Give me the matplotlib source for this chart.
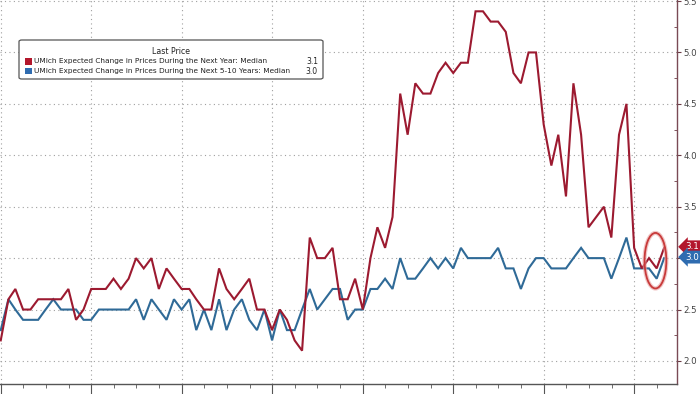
import matplotlib
matplotlib.use('Agg')
import matplotlib.pyplot as plt
import matplotlib.dates as mdates
import pandas as pd
import numpy as np
from matplotlib.patches import Ellipse, FancyBboxPatch, Rectangle
from matplotlib.transforms import blended_transform_factory

# ---------------- data ----------------
dates = pd.date_range('2016-12-01', '2024-04-01', freq='MS') + pd.offsets.MonthEnd(0)

one_year = [2.2,
            2.6, 2.7, 2.5, 2.5, 2.6, 2.6, 2.6, 2.6, 2.7, 2.4, 2.5, 2.7,
            2.7, 2.7, 2.8, 2.7, 2.8, 3.0, 2.9, 3.0, 2.7, 2.9, 2.8, 2.7,
            2.7, 2.6, 2.5, 2.5, 2.9, 2.7, 2.6, 2.7, 2.8, 2.5, 2.5, 2.3,
            2.5, 2.4, 2.2, 2.1, 3.2, 3.0, 3.0, 3.1, 2.6, 2.6, 2.8, 2.5,
            3.0, 3.3, 3.1, 3.4, 4.6, 4.2, 4.7, 4.6, 4.6, 4.8, 4.9, 4.8,
            4.9, 4.9, 5.4, 5.4, 5.3, 5.3, 5.2, 4.8, 4.7, 5.0, 5.0, 4.3,
            3.9, 4.2, 3.6, 4.7, 4.2, 3.3, 3.4, 3.5, 3.2, 4.2, 4.5, 3.1,
            2.9, 3.0, 2.9, 3.1]

five_ten_year = [2.3,
                 2.6, 2.5, 2.4, 2.4, 2.4, 2.5, 2.6, 2.5, 2.5, 2.5, 2.4, 2.4,
                 2.5, 2.5, 2.5, 2.5, 2.5, 2.6, 2.4, 2.6, 2.5, 2.4, 2.6, 2.5,
                 2.6, 2.3, 2.5, 2.3, 2.6, 2.3, 2.5, 2.6, 2.4, 2.3, 2.5, 2.2,
                 2.5, 2.3, 2.3, 2.5, 2.7, 2.5, 2.6, 2.7, 2.7, 2.4, 2.5, 2.5,
                 2.7, 2.7, 2.8, 2.7, 3.0, 2.8, 2.8, 2.9, 3.0, 2.9, 3.0, 2.9,
                 3.1, 3.0, 3.0, 3.0, 3.0, 3.1, 2.9, 2.9, 2.7, 2.9, 3.0, 3.0,
                 2.9, 2.9, 2.9, 3.0, 3.1, 3.0, 3.0, 3.0, 2.8, 3.0, 3.2, 2.9,
                 2.9, 2.9, 2.8, 3.0]

legend_title = "Last Price"
series_names = ["UMich Expected Change in Prices During the Next Year: Median",
                "UMich Expected Change in Prices During the Next 5-10 Years: Median"]
last_labels = ["3.1", "3.0"]
yticks = [2.0, 2.5, 3.0, 3.5, 4.0, 4.5, 5.0, 5.5]

RED = '#9c1a30'
BLUE = '#2f6a97'
RED_BOX = '#b3172c'
BLUE_BOX = '#2f6cb0'

# ---------------- figure ----------------
W, H = 700, 394
fig = plt.figure(figsize=(7.0, 3.94), dpi=100)
ax = fig.add_axes([0.0, 10 / H, 677 / W, 1 - 10 / H])

ax.plot(dates, five_ten_year, color=BLUE, lw=1.5, zorder=3, solid_joinstyle='miter')
ax.plot(dates, one_year, color=RED, lw=1.5, zorder=4, solid_joinstyle='miter')

ax.set_ylim(1.776, 5.51)
ax.set_xlim(pd.Timestamp('2016-12-28'), pd.Timestamp('2024-06-21'))

# axis styling
ax.yaxis.tick_right()
ax.set_yticks(yticks)
# the 3.0 tick label is hidden behind the last-value tag in the reference
ax.set_yticklabels(["" if abs(v - 3.0) < 1e-9 else f"{v:.1f}" for v in yticks])
ax.yaxis.set_minor_locator(matplotlib.ticker.MultipleLocator(0.25))
ax.tick_params(axis='y', which='major', direction='out', length=3, width=0.8,
               colors='#6b3a44', labelcolor='#444444', labelsize=6.2, pad=1.5)
ax.tick_params(axis='y', which='minor', direction='in', length=2, width=0.6, colors='#6b3a44')

ax.xaxis.set_major_locator(mdates.YearLocator())
ax.xaxis.set_minor_locator(mdates.MonthLocator(bymonth=[4, 7, 10]))
ax.tick_params(axis='x', which='major', direction='out', length=10, width=0.8,
               colors='#555555', labelbottom=False)
ax.tick_params(axis='x', which='minor', direction='out', length=3, width=0.6, colors='#555555')

ax.grid(True, which='major', axis='both', linestyle=(0, (1, 3)), color='#a0a0a0', lw=0.8)

for s in ['top', 'left']:
    ax.spines[s].set_visible(False)
ax.spines['right'].set_color('#7a4a55')
ax.spines['right'].set_linewidth(1.0)
ax.spines['bottom'].set_color('#555555')
ax.spines['bottom'].set_linewidth(1.0)

# last value labels on right
bt = blended_transform_factory(ax.transAxes, ax.transData)
ax.text(1.012, 3.11, last_labels[0], transform=bt, ha='left', va='center', color='white',
        fontsize=6.3, zorder=10, clip_on=False,
        bbox=dict(boxstyle='larrow,pad=0.22', fc=RED_BOX, ec='none'))
ax.text(1.012, 3.01, last_labels[1], transform=bt, ha='left', va='center', color='white',
        fontsize=6.3, zorder=11, clip_on=False,
        bbox=dict(boxstyle='larrow,pad=0.22', fc=BLUE_BOX, ec='none'))

# highlight ellipse
cx = mdates.date2num(pd.Timestamp('2024-03-26'))
ax.add_patch(Ellipse((cx, 2.975), width=88, height=0.54, fill=False,
                     ec='#e8a0a0', lw=3.0, alpha=0.6, zorder=5))
ax.add_patch(Ellipse((cx, 2.975), width=88, height=0.54, fill=False,
                     ec='#c83a3a', lw=1.3, zorder=6))

# legend (drawn in figure pixel coords)
def fx(x):
    return x / W

def fy(y):
    return 1 - y / H

box = FancyBboxPatch((fx(19), fy(79)), fx(323) - fx(19), fy(40) - fy(79),
                     boxstyle='round,pad=0,rounding_size=0.004', transform=fig.transFigure,
                     fc='white', ec='#555555', lw=0.9, zorder=20)
fig.patches.append(box)
fs = 5.3
fig.text(fx(171), fy(51), legend_title, ha='center', va='center', fontsize=fs + 0.4,
         color='#222222', zorder=21)
rows_y = [61.5, 71]
cols = [RED_BOX, BLUE_BOX]
for yy, name, val, c in zip(rows_y, series_names, last_labels, cols):
    fig.patches.append(Rectangle((fx(25), fy(yy + 3.2)), fx(6.5), (6.4) / H,
                                 transform=fig.transFigure, fc=c, ec='none', zorder=21))
    fig.text(fx(33.5), fy(yy), name, ha='left', va='center', fontsize=fs,
             color='#222222', zorder=21)
    fig.text(fx(318), fy(yy), val, ha='right', va='center', fontsize=fs + 0.2,
             color='#222222', zorder=21)

fig.savefig('out.png', dpi=100)
